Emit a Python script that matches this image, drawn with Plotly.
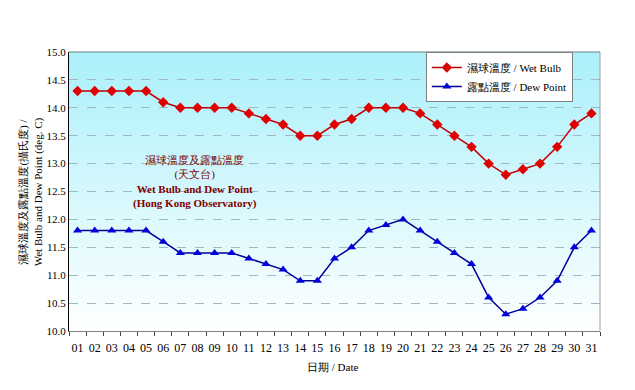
import plotly.graph_objects as go

dates = [f"{d:02d}" for d in range(1, 32)]
wet_bulb = [14.3, 14.3, 14.3, 14.3, 14.3, 14.1, 14.0, 14.0, 14.0, 14.0, 13.9, 13.8, 13.7, 13.5, 13.5,
            13.7, 13.8, 14.0, 14.0, 14.0, 13.9, 13.7, 13.5, 13.3, 13.0, 12.8, 12.9, 13.0, 13.3, 13.7, 13.9]
dew_point = [11.8, 11.8, 11.8, 11.8, 11.8, 11.6, 11.4, 11.4, 11.4, 11.4, 11.3, 11.2, 11.1, 10.9, 10.9,
             11.3, 11.5, 11.8, 11.9, 12.0, 11.8, 11.6, 11.4, 11.2, 10.6, 10.3, 10.4, 10.6, 10.9, 11.5, 11.8]
y_ticks = [10.0, 10.5, 11.0, 11.5, 12.0, 12.5, 13.0, 13.5, 14.0, 14.5, 15.0]

serif = "Liberation Serif, Times New Roman, serif"

fig = go.Figure()
fig.add_trace(go.Scatter(
    x=dates, y=wet_bulb, mode="lines+markers", name="濕球溫度 / Wet Bulb",
    line=dict(color="#c00000", width=1.5),
    marker=dict(symbol="diamond", size=8, color="#e00000"),
))
fig.add_trace(go.Scatter(
    x=dates, y=dew_point, mode="lines+markers", name="露點溫度 / Dew Point",
    line=dict(color="#000099", width=1.5),
    marker=dict(symbol="triangle-up", size=8, color="#0000dd"),
))

# gradient background
n = 60
top = (170, 240, 250)
shapes = []
for i in range(n):
    t = (i + 0.5) / n  # 0 bottom -> 1 top
    c = tuple(int(round(255 + (top[k] - 255) * t)) for k in range(3))
    shapes.append(dict(type="rect", xref="x domain", yref="y domain",
                       x0=0, x1=1, y0=i / n, y1=(i + 1) / n + 0.002,
                       fillcolor=f"rgb{c}", line=dict(width=0), layer="below"))
shapes.append(dict(type="line", xref="x domain", yref="y domain", x0=0, x1=1, y0=1, y1=1,
                   line=dict(color="#808080", width=1)))
shapes.append(dict(type="line", xref="x domain", yref="y domain", x0=1, x1=1, y0=0, y1=1,
                   line=dict(color="#a0a0a0", width=1)))

fig.update_layout(
    width=635, height=390,
    margin=dict(l=61, r=43, t=44, b=67, autoexpand=False),
    paper_bgcolor="white", plot_bgcolor="white",
    shapes=shapes,
    showlegend=True,
    legend=dict(x=0.672, y=1.0, xanchor="left", yanchor="top",
                bgcolor="white", bordercolor="#808080", borderwidth=1,
                font=dict(family=serif, size=11, color="black"),
                tracegroupgap=0, itemwidth=30),
    xaxis=dict(
        type="category", showgrid=False, ticks="outside", tickson="boundaries",
        ticklen=4, tickcolor="#404040", tickangle=0, automargin=False,
        ticklabelstandoff=6,
        showline=True, linecolor="#808080", linewidth=1,
        tickfont=dict(family=serif, size=12, color="black"),
        range=[-0.5, 30.5],
    ),
    yaxis=dict(
        range=[10.0, 15.0], tickvals=y_ticks, ticktext=[f"{v:.1f}" for v in y_ticks],
        showgrid=True, gridcolor="#a0b8c0", griddash="dash", gridwidth=1,
        showline=True, linecolor="black", linewidth=1, automargin=False,
        ticks="", zeroline=False,
        tickfont=dict(family=serif, size=11, color="black"),
    ),
    annotations=[
        dict(text="濕球溫度及露點溫度<br>(天文台)<br><b>Wet Bulb and Dew Point</b><br><b>(Hong Kong Observatory)</b>",
             xref="paper", yref="paper", x=0.237, y=0.64, xanchor="center", yanchor="top",
             showarrow=False, align="center",
             font=dict(family=serif, size=11, color="#800000")),
        dict(text="濕球溫度及露點溫度(攝氏度) /<br>Wet Bulb and Dew Point (deg. C)",
             xref="paper", yref="paper", x=-0.072, y=0.5, xanchor="center", yanchor="middle",
             textangle=-90, showarrow=False, align="center",
             font=dict(family=serif, size=11, color="black")),
        dict(text="日期 / Date", xref="paper", yref="paper", x=0.497, y=-0.129,
             xanchor="center", yanchor="middle", showarrow=False,
             font=dict(family=serif, size=11, color="black")),
    ],
)

fig.write_html("out.html")
